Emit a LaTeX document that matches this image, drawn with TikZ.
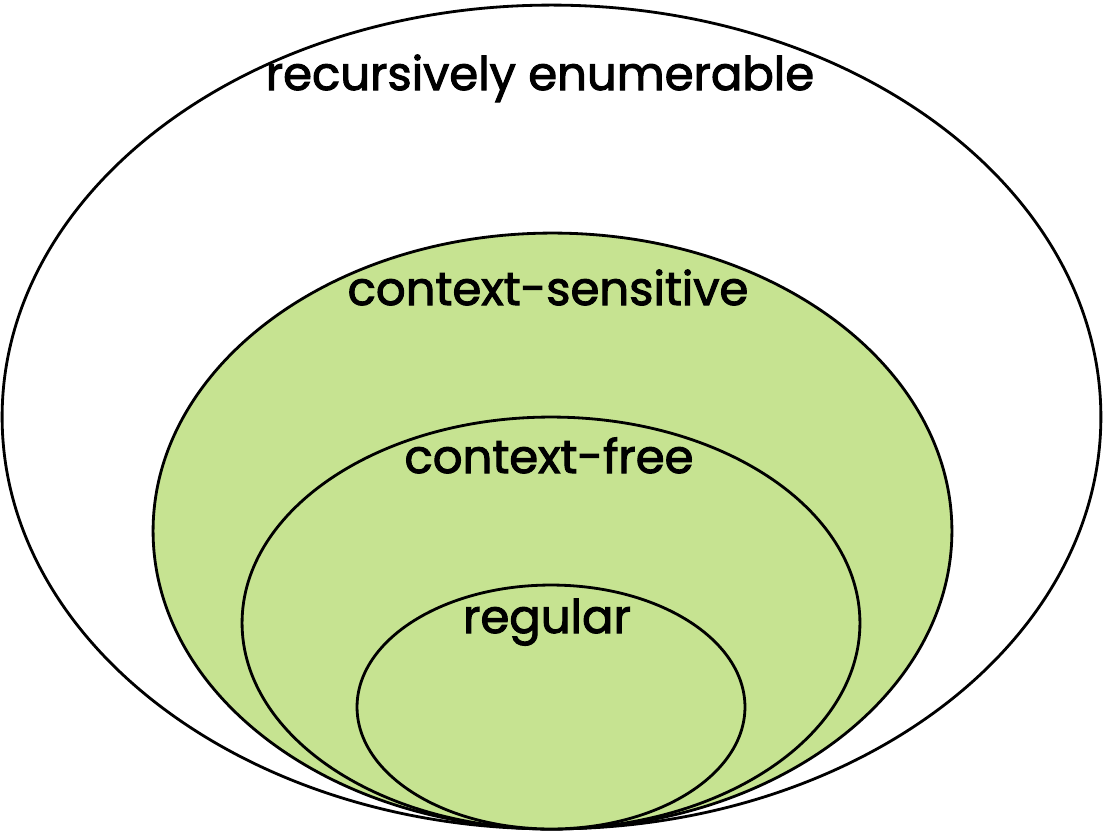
\documentclass[tikz,border=0pt]{standalone}
\usepackage{fontspec}
\setmainfont{Poppins}
\newfontfamily\langfont{Poppins}[FakeBold=2.2]
\definecolor{langgreen}{HTML}{C6E391}
\tikzset{
  langset/.style={draw=black, line width=1.6pt},
  langlabel/.style={anchor=base, inner sep=0pt, font=\langfont\fontsize{26.5}{30}\selectfont}
}
\begin{document}
\begin{tikzpicture}[x=0.02cm, y=-0.02cm]
      \useasboundingbox (0,0) rectangle (1103,833);
      % nested language classes, all touching at the bottom
      \draw[langset, fill=white] (551.5,417) ellipse [x radius=10.99cm, y radius=8.24cm];
      \draw[langset, fill=langgreen] (552.5,531) ellipse [x radius=7.99cm, y radius=5.96cm];
      \draw[langset, fill=langgreen] (551,623) ellipse [x radius=6.18cm, y radius=4.12cm];
      \draw[langset, fill=langgreen] (551,707) ellipse [x radius=3.88cm, y radius=2.44cm];
      \node[langlabel] (re) at (540,90) {recursively enumerable};
      \node[langlabel] (cs) at (548,305) {context-sensitive};
      \node[langlabel] (cf) at (549,473) {context-free};
      \node[langlabel] (reg) at (547,633) {regular};
    \end{tikzpicture}
\end{document}
